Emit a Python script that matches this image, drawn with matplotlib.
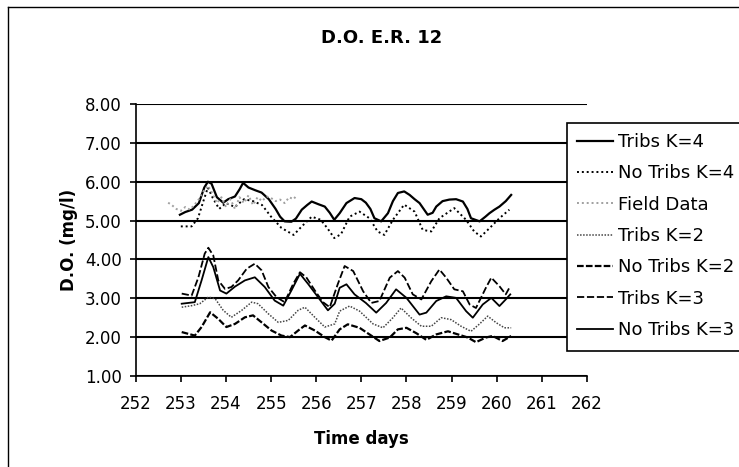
import numpy as np
import matplotlib
matplotlib.use('Agg')
import matplotlib.pyplot as plt
from matplotlib.lines import Line2D
from matplotlib.patches import Rectangle

# --- data ---
t_tribs_k4 = [252.98, 253.1, 253.25, 253.4, 253.52, 253.6, 253.68, 253.8, 253.94, 254.05,
              254.2, 254.3, 254.38, 254.5, 254.65, 254.79, 254.95, 255.1, 255.2, 255.3,
              255.45, 255.55, 255.68, 255.8, 255.9, 256.05, 256.19, 256.3, 256.4, 256.52,
              256.67, 256.85, 257.0, 257.1, 257.2, 257.29, 257.44, 257.59, 257.7, 257.81,
              257.95, 258.07, 258.18, 258.29, 258.47, 258.58, 258.66, 258.8, 258.95, 259.1,
              259.25, 259.35, 259.43, 259.62, 259.75, 259.84, 259.95, 260.06, 260.2, 260.32]
do_tribs_k4 = [5.15, 5.22, 5.28, 5.45, 5.85, 6.0, 5.95, 5.6, 5.46, 5.55,
               5.62, 5.8, 5.97, 5.85, 5.78, 5.72, 5.55, 5.3, 5.1, 4.98,
               4.97, 5.05, 5.28, 5.4, 5.49, 5.42, 5.36, 5.2, 5.02, 5.19,
               5.45, 5.58, 5.55, 5.46, 5.3, 5.06, 4.98, 5.19, 5.5, 5.71,
               5.75, 5.66, 5.55, 5.45, 5.15, 5.2, 5.36, 5.5, 5.54, 5.55,
               5.49, 5.3, 5.06, 4.98, 5.1, 5.19, 5.28, 5.36, 5.5, 5.66]

t_notribs_k4 = [253.0, 253.24, 253.38, 253.5, 253.6, 253.7, 253.85, 254.0, 254.2, 254.4,
                254.6, 254.8, 255.0, 255.23, 255.5, 255.68, 255.9, 256.1, 256.25, 256.4,
                256.55, 256.74, 256.96, 257.18, 257.36, 257.51, 257.7, 257.95, 258.18, 258.36,
                258.55, 258.73, 259.06, 259.32, 259.5, 259.65, 259.88, 260.06, 260.28]
do_notribs_k4 = [4.85, 4.85, 5.06, 5.5, 5.85, 5.6, 5.3, 5.45, 5.35, 5.55,
                 5.5, 5.4, 5.1, 4.81, 4.63, 4.85, 5.1, 5.02, 4.8, 4.55,
                 4.65, 5.1, 5.23, 5.06, 4.72, 4.63, 5.02, 5.41, 5.23, 4.76,
                 4.72, 5.06, 5.32, 5.02, 4.72, 4.59, 4.85, 5.06, 5.28]

t_field = [252.72, 252.8, 252.9, 253.0, 253.1, 253.2, 253.3, 253.4, 253.5, 253.6,
           253.7, 253.8, 253.9, 254.0, 254.1, 254.2, 254.3, 254.4, 254.5, 254.6,
           254.7, 254.8, 254.9, 255.0, 255.1, 255.2, 255.3, 255.4, 255.5, 255.57]
do_field = [5.46, 5.4, 5.3, 5.25, 5.35, 5.28, 5.4, 5.55, 5.75, 5.9,
            5.7, 5.45, 5.6, 5.35, 5.55, 5.3, 5.6, 5.45, 5.65, 5.4,
            5.6, 5.5, 5.62, 5.58, 5.5, 5.54, 5.45, 5.6, 5.55, 5.66]

t_tribs_k2 = [253.02, 253.24, 253.42, 253.61, 253.76, 253.94, 254.12, 254.35, 254.57, 254.71,
              254.94, 255.16, 255.38, 255.6, 255.75, 255.97, 256.19, 256.41, 256.52, 256.74,
              256.96, 257.26, 257.48, 257.7, 257.88, 258.1, 258.33, 258.55, 258.77, 258.99,
              259.21, 259.43, 259.62, 259.8, 259.99, 260.17, 260.32]
do_tribs_k2 = [2.77, 2.81, 2.86, 3.03, 2.99, 2.69, 2.51, 2.69, 2.9, 2.86,
               2.6, 2.38, 2.43, 2.69, 2.77, 2.51, 2.26, 2.34, 2.67, 2.8,
               2.67, 2.34, 2.24, 2.5, 2.75, 2.5, 2.28, 2.28, 2.5, 2.45,
               2.28, 2.15, 2.34, 2.54, 2.37, 2.24, 2.24]

t_notribs_k2 = [253.02, 253.31, 253.46, 253.65, 253.83, 254.01, 254.2, 254.42, 254.6, 254.79,
                255.01, 255.23, 255.42, 255.6, 255.75, 255.97, 256.19, 256.34, 256.52, 256.7,
                256.96, 257.18, 257.4, 257.63, 257.81, 258.0, 258.22, 258.44, 258.66, 258.92,
                259.14, 259.36, 259.54, 259.76, 259.91, 260.13, 260.32]
do_notribs_k2 = [2.13, 2.04, 2.26, 2.64, 2.47, 2.26, 2.34, 2.51, 2.56, 2.38,
                 2.17, 2.04, 2.0, 2.17, 2.3, 2.17, 2.0, 1.91, 2.2, 2.33,
                 2.24, 2.07, 1.9, 1.99, 2.2, 2.24, 2.1, 1.93, 2.07, 2.15,
                 2.07, 1.99, 1.87, 1.99, 2.03, 1.9, 2.03]

t_tribs_k3 = [253.02, 253.24, 253.39, 253.53, 253.61, 253.72, 253.83, 253.98, 254.12, 254.27,
              254.46, 254.64, 254.79, 254.94, 255.12, 255.3, 255.49, 255.64, 255.78, 255.97,
              256.15, 256.3, 256.48, 256.63, 256.82, 257.04, 257.22, 257.4, 257.63, 257.81,
              257.96, 258.14, 258.33, 258.55, 258.73, 258.88, 259.06, 259.25, 259.4, 259.54,
              259.76, 259.88, 260.06, 260.2, 260.28]
do_tribs_k3 = [3.12, 3.07, 3.54, 4.15, 4.3, 4.1, 3.46, 3.24, 3.29, 3.46,
               3.76, 3.89, 3.72, 3.29, 3.03, 2.9, 3.37, 3.67, 3.54, 3.2,
               2.9, 2.77, 3.37, 3.83, 3.7, 3.18, 2.88, 2.93, 3.53, 3.7,
               3.53, 3.1, 2.97, 3.44, 3.74, 3.53, 3.23, 3.18, 2.84, 2.75,
               3.27, 3.53, 3.31, 3.1, 3.27]

t_notribs_k3 = [253.02, 253.31, 253.46, 253.61, 253.72, 253.87, 254.01, 254.2, 254.42, 254.64,
                254.86, 255.08, 255.27, 255.45, 255.64, 255.82, 256.04, 256.26, 256.41, 256.52,
                256.67, 256.85, 257.1, 257.33, 257.55, 257.77, 258.0, 258.29, 258.44, 258.66,
                258.88, 259.1, 259.32, 259.47, 259.69, 259.88, 260.06, 260.2, 260.3]
do_notribs_k3 = [2.86, 2.9, 3.46, 4.06, 3.8, 3.2, 3.12, 3.3, 3.46, 3.54,
                 3.29, 2.94, 2.81, 3.2, 3.63, 3.37, 3.03, 2.69, 2.86, 3.27,
                 3.36, 3.1, 2.88, 2.63, 2.88, 3.23, 3.01, 2.58, 2.63, 2.93,
                 3.05, 3.01, 2.67, 2.5, 2.84, 3.01, 2.8, 2.97, 3.1]

x_ticks = np.arange(252, 263, 1)
y_ticks = np.arange(1, 9, 1)

# --- figure ---
W, H = 739, 467
fig = plt.figure(figsize=(W / 100, H / 100), dpi=100)
ax = fig.add_axes([0.1836, 0.1949, 0.7943 - 0.1836, 0.7773 - 0.1949])

ax.plot(t_tribs_k4, do_tribs_k4, color='black', lw=1.6, label='Tribs K=4')
ax.plot(t_notribs_k4, do_notribs_k4, color='black', lw=1.4, ls=(0, (1, 1.5)), label='No Tribs K=4')
ax.plot(t_field, do_field, color='#a0a0a0', lw=1.4, ls=(0, (1, 1.5)), label='Field Data')
ax.plot(t_tribs_k2, do_tribs_k2, color='#444444', lw=1.1, ls=(0, (1, 1)), label='Tribs K=2')
ax.plot(t_notribs_k2, do_notribs_k2, color='black', lw=1.6, ls=(0, (3, 1)), label='No Tribs K=2')
ax.plot(t_tribs_k3, do_tribs_k3, color='black', lw=1.3, ls=(0, (4, 1.5)), label='Tribs K=3')
ax.plot(t_notribs_k3, do_notribs_k3, color='black', lw=1.3, label='No Tribs K=3')

ax.set_xlim(252, 262)
ax.set_ylim(1, 8)
ax.set_xticks(x_ticks)
ax.set_yticks(y_ticks)
ax.set_yticklabels(['%.2f' % v for v in y_ticks])
ax.yaxis.grid(True, color='black', lw=1.5)
ax.set_axisbelow(True)
for s in ['top', 'right']:
    ax.spines[s].set_visible(False)
ax.spines['left'].set_linewidth(1.2)
ax.spines['bottom'].set_linewidth(1.2)
ax.tick_params(axis='both', labelsize=12, width=1.2, length=4, direction='out')
ax.tick_params(axis='x', pad=10)
ax.tick_params(axis='y', pad=6)

ax.set_xlabel('Time days', fontsize=12, fontweight='bold', labelpad=12)
ax.set_ylabel('D.O. (mg/l)', fontsize=12, fontweight='bold', labelpad=5)
fig.text(382 / W, 1 - 38 / H, 'D.O. E.R. 12', ha='center', va='center',
         fontsize=13, fontweight='bold')

# legend box runs off the right edge in the scan
fig.add_artist(Rectangle((567 / W, 1 - 351 / H), 200 / W, 228 / H,
                         transform=fig.transFigure, facecolor='white',
                         edgecolor='black', lw=1.2, clip_on=False, zorder=2))
leg = fig.legend(loc='upper left', bbox_to_anchor=(567 / W, 1 - 123 / H),
                 fontsize=13, frameon=False, borderaxespad=0,
                 handlelength=2.0, handletextpad=0.3, labelspacing=0.74,
                 borderpad=0.55)
leg.set_zorder(3)

# outer chart border (scanned frame)
fig.add_artist(Line2D([8 / W, 1], [1 - 7 / H, 1 - 7 / H], color='black', lw=1.0))
fig.add_artist(Line2D([8 / W, 8 / W], [0, 1 - 7 / H], color='black', lw=1.0))

fig.savefig('out.png', dpi=100)
